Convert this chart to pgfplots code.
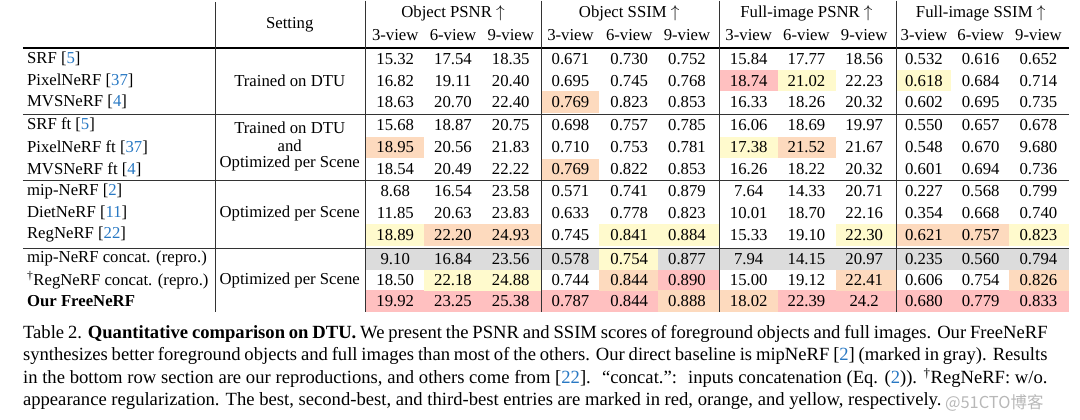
\documentclass[border=0pt]{standalone}
\usepackage{fontspec}
\setmainfont{Liberation Serif}
\newfontfamily\cjk{Noto Sans CJK SC}
\usepackage{pgfplots}
\usepackage{pgfplotstable}
\pgfplotsset{compat=1.18}
\definecolor{citeblue}{RGB}{40,120,195}
\definecolor{cRed}{RGB}{255,192,192}
\definecolor{cOrange}{RGB}{253,218,190}
\definecolor{cYellow}{RGB}{255,250,205}
\definecolor{cGray}{RGB}{220,220,220}
\protected\def\cit#1{[{\color{citeblue}#1}]}
\protected\def\bff#1{\textbf{#1}}
\protected\def\dg{\textsuperscript{†}}
\protected\def\up{$\uparrow$}

\pgfplotstableread{
y op3 op6 op9 os3 os6 os9 fp3 fp6 fp9 fs3 fs6 fs9
59 15.32 17.54 18.35 0.671 0.730 0.752 15.84 17.77 18.56 0.532 0.616 0.652
80.5 16.82 19.11 20.40 0.695 0.745 0.768 18.74 21.02 22.23 0.618 0.684 0.714
102 18.63 20.70 22.40 0.769 0.823 0.853 16.33 18.26 20.32 0.602 0.695 0.735
125 15.68 18.87 20.75 0.698 0.757 0.785 16.06 18.69 19.97 0.550 0.657 0.678
147.5 18.95 20.56 21.83 0.710 0.753 0.781 17.38 21.52 21.67 0.548 0.670 9.680
169.5 18.54 20.49 22.22 0.769 0.822 0.853 16.26 18.22 20.32 0.601 0.694 0.736
191.5 8.68 16.54 23.58 0.571 0.741 0.879 7.64 14.33 20.71 0.227 0.568 0.799
213.5 11.85 20.63 23.83 0.633 0.778 0.823 10.01 18.70 22.16 0.354 0.668 0.740
235.5 18.89 22.20 24.93 0.745 0.841 0.884 15.33 19.10 22.30 0.621 0.757 0.823
259.5 9.10 16.84 23.56 0.578 0.754 0.877 7.94 14.15 20.97 0.235 0.560 0.794
281 18.50 22.18 24.88 0.744 0.844 0.890 15.00 19.12 22.41 0.606 0.754 0.826
302 19.92 23.25 25.38 0.787 0.844 0.888 18.02 22.39 24.2 0.680 0.779 0.833
}\nums

\pgfplotstableread[col sep=semicolon]{
x;y;label
27;59;SRF \cit{5}
27;80.5;PixelNeRF \cit{37}
27;102;MVSNeRF \cit{4}
27;125;SRF ft \cit{5}
27;147.5;PixelNeRF ft \cit{37}
27;169.5;MVSNeRF ft \cit{4}
27;191.5;mip-NeRF \cit{2}
27;213.5;DietNeRF \cit{11}
27;235.5;RegNeRF \cit{22}
27;259.5;mip-NeRF concat. (repro.)
27;281;\dg RegNeRF concat. (repro.)
27;302;\bff{Our FreeNeRF}
}\methods

\pgfplotstableread[col sep=semicolon]{
x;y;label
291;24;Setting
291;80.5;Trained on DTU
291;128;Trained on DTU
291;146;and
291;164;Optimized per Scene
291;213.5;Optimized per Scene
291;281;Optimized per Scene
455;13;Object PSNR \up
632;13;Object SSIM \up
810;13;Full-image PSNR \up
985;13;Full-image SSIM \up
397;35;3-view
455;35;6-view
513;35;9-view
573;35;3-view
632;35;6-view
690;35;9-view
752;35;3-view
810;35;6-view
868;35;9-view
928;35;3-view
985;35;6-view
1043;35;9-view
}\centered

\pgfplotsset{
  txt/.style={draw=none, forget plot, nodes near coords, point meta=explicit symbolic,
    every node near coord/.append style={anchor=center, inner sep=0pt,
      font=\fontsize{16.8}{20}\selectfont, text=black}},
  cell/.style={line width=21.5pt, line cap=butt, forget plot},
}

\begin{document}
\begin{tikzpicture}
\begin{axis}[
  width=1080pt, height=421pt, scale only axis,
  xmin=0, xmax=1080, ymin=0, ymax=421, y dir=reverse,
  hide axis, clip=false, unbounded coords=jump,
]
\addplot[draw=none, forget plot] coordinates {(0,0) (1080,421)};
% shaded cells
\addplot[cell, cGray] coordinates {(368,259.5) (1074,259.5)};
\addplot[cell, cRed] coordinates {
 (723,80.5) (781,80.5) (nan,nan)
 (661,281) (723,281) (nan,nan)
 (368,302) (661,302) (nan,nan)
 (781,302) (1074,302)};
\addplot[cell, cOrange] coordinates {
 (544,102) (602,102) (nan,nan)
 (368,147.5) (426,147.5) (nan,nan)
 (781,147.5) (840,147.5) (nan,nan)
 (544,169.5) (602,169.5) (nan,nan)
 (426,235.5) (544,235.5) (nan,nan)
 (900,235.5) (1013,235.5) (nan,nan)
 (602,281) (661,281) (nan,nan)
 (840,281) (900,281) (nan,nan)
 (1013,281) (1074,281) (nan,nan)
 (661,302) (781,302)};
\addplot[cell, cYellow] coordinates {
 (781,80.5) (840,80.5) (nan,nan)
 (900,80.5) (955,80.5) (nan,nan)
 (723,147.5) (781,147.5) (nan,nan)
 (368,235.5) (426,235.5) (nan,nan)
 (602,235.5) (723,235.5) (nan,nan)
 (840,235.5) (900,235.5) (nan,nan)
 (1013,235.5) (1074,235.5) (nan,nan)
 (602,259.5) (661,259.5) (nan,nan)
 (426,281) (544,281)};
% rules
\addplot[black, line width=1.8pt, forget plot] coordinates {(23,48) (1074,48)};
\addplot[black!80, line width=1pt, forget plot] coordinates {
 (23,114) (1074,114) (nan,nan)
 (23,181) (1074,181) (nan,nan)
 (23,249) (1074,249)};
\addplot[black!80, line width=1pt, forget plot] coordinates {
 (216,2) (216,313) (nan,nan)
 (367,0) (367,313) (nan,nan)
 (544,0) (544,313) (nan,nan)
 (723,0) (723,313) (nan,nan)
 (900,0) (900,313)};
% text
\addplot[txt, every node near coord/.append style={anchor=west}] table[x=x, y=y, meta=label] {\methods};
\addplot[txt] table[x=x, y=y, meta=label] {\centered};
\addplot[txt] table[x expr=397, y=y, meta=op3] {\nums};
\addplot[txt] table[x expr=455, y=y, meta=op6] {\nums};
\addplot[txt] table[x expr=513, y=y, meta=op9] {\nums};
\addplot[txt] table[x expr=573, y=y, meta=os3] {\nums};
\addplot[txt] table[x expr=632, y=y, meta=os6] {\nums};
\addplot[txt] table[x expr=690, y=y, meta=os9] {\nums};
\addplot[txt] table[x expr=752, y=y, meta=fp3] {\nums};
\addplot[txt] table[x expr=810, y=y, meta=fp6] {\nums};
\addplot[txt] table[x expr=868, y=y, meta=fp9] {\nums};
\addplot[txt] table[x expr=928, y=y, meta=fs3] {\nums};
\addplot[txt] table[x expr=985, y=y, meta=fs6] {\nums};
\addplot[txt] table[x expr=1043, y=y, meta=fs9] {\nums};
% caption
\node[anchor=north west, inner sep=0pt, text width=1029pt, align=justify,
  font=\fontsize{18.7}{22.6}\selectfont] at (axis cs:23,326) {Table 2. \textbf{Quantitative comparison on DTU.} We present the PSNR and SSIM scores of foreground objects and full images. Our FreeNeRF\linebreak synthesizes better foreground objects and full images than most of the others. Our direct baseline is mipNeRF [\textcolor{citeblue}{2}] (marked in gray). Results\linebreak in the bottom row section are our reproductions, and others come from [\textcolor{citeblue}{22}]. \ “concat.”: \ inputs concatenation (Eq. (\textcolor{citeblue}{2})). \textsuperscript{†}RegNeRF: w/o.\linebreak appearance regularization. The best, second-best, and third-best entries are marked in red, orange, and yellow, respectively.};
\node[anchor=west, inner sep=0pt, text=black!28, font=\cjk\fontsize{16.5}{16.5}\selectfont] at (axis cs:949,404) {@51CTO博客};
\end{axis}
\end{tikzpicture}
\end{document}
